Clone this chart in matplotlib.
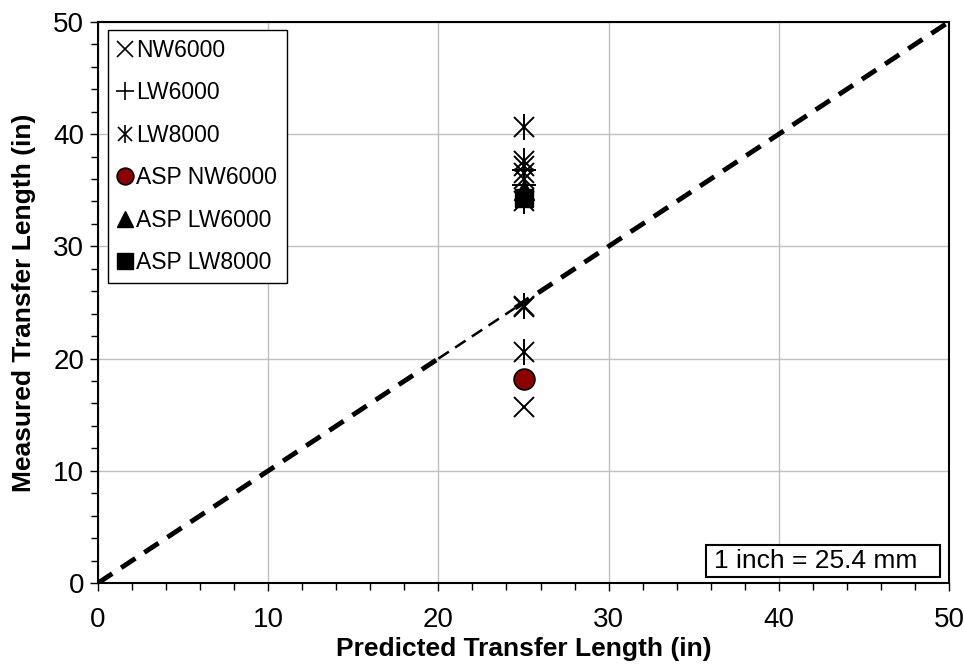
import matplotlib
matplotlib.use("Agg")
import matplotlib.pyplot as plt
from matplotlib.ticker import MultipleLocator
from matplotlib.patches import Rectangle

plt.rcParams['font.family'] = ['Liberation Sans', 'DejaVu Sans']

# Predicted vs measured transfer lengths (in)
predicted = 25.0
nw6000 = [15.7, 24.6, 36.5, 37.2]
lw6000 = [35.5, 36.8]
lw8000 = [20.6, 24.7, 34.0, 36.0, 37.6, 40.6]
asp_nw6000 = [18.2]
asp_lw6000 = [35.0]
asp_lw8000 = [34.3]

# 1:1 reference line
line_x = [0, 20, 24.5, 50]
line_y = [0, 20, 24.5, 50]

fig = plt.figure(figsize=(9.64, 6.64), dpi=100)
ax = fig.add_axes([0.1017, 0.122, 0.8827, 0.845])

ax.set_xlim(0, 50)
ax.set_ylim(0, 50)
ax.xaxis.set_major_locator(MultipleLocator(10))
ax.yaxis.set_major_locator(MultipleLocator(10))
ax.xaxis.set_minor_locator(MultipleLocator(2))
ax.yaxis.set_minor_locator(MultipleLocator(2))
ax.grid(True, which='major', color='#c0c0c0', linewidth=1.0)
ax.set_axisbelow(True)
ax.tick_params(which='both', direction='out', color='black', labelsize=20)
ax.tick_params(which='major', length=6, width=1)
ax.tick_params(which='minor', length=5, width=1)
ax.tick_params(axis='x', which='major', pad=11)
ax.tick_params(axis='y', which='major', pad=4)
for s in ax.spines.values():
    s.set_linewidth(1.5)
    s.set_color('black')

# 1:1 line (thick dashed, with a thinner stretch)
ax.plot(line_x[0:2], line_y[0:2], color='black', lw=3.5, ls=(0, (3.5, 2.2)), zorder=3)
ax.plot(line_x[1:3], line_y[1:3], color='black', lw=1.8, ls=(0, (5, 3)), zorder=3)
ax.plot(line_x[2:4], line_y[2:4], color='black', lw=3.5, ls=(0, (3.5, 2.2)), zorder=3)

def xs(vals):
    return [predicted] * len(vals)

ax.plot(xs(asp_lw8000), asp_lw8000, ls='none', marker='s', ms=13, color='black', zorder=4)
ax.plot(xs(asp_lw6000), asp_lw6000, ls='none', marker='^', ms=14, color='black', zorder=4)
ax.plot(xs(asp_nw6000), asp_nw6000, ls='none', marker='o', ms=15, mfc='#8b0000',
        mec='black', mew=1.2, zorder=5)
ax.plot(xs(nw6000), nw6000, ls='none', marker='x', ms=15, mew=1.4, color='black', zorder=5)
ax.plot(xs(lw6000), lw6000, ls='none', marker='+', ms=17, mew=1.4, color='black', zorder=5)
ax.plot(xs(lw8000), lw8000, ls='none', marker='x', ms=15, mew=1.4, color='black', zorder=5)
ax.plot(xs(lw8000), lw8000, ls='none', marker='|', ms=19, mew=1.4, color='black', zorder=5)

# legend proxies with smaller markers
def proxy(**kw):
    return ax.plot([], [], ls='none', color='black', **kw)[0]

lp_x = proxy(marker='x', ms=11, mew=1.2)
lp_plus = proxy(marker='+', ms=13, mew=1.2)
lp_a1 = proxy(marker='x', ms=10, mew=1.2)
lp_a2 = proxy(marker='|', ms=13, mew=1.2)
lp_c = ax.plot([], [], ls='none', marker='o', ms=12, mfc='#8b0000', mec='black', mew=1.2)[0]
lp_t = proxy(marker='^', ms=12)
lp_s = proxy(marker='s', ms=11)

leg = ax.legend([lp_x, lp_plus, (lp_a1, lp_a2), lp_c, lp_t, lp_s],
                ['NW6000', 'LW6000', 'LW8000', 'ASP NW6000', 'ASP LW6000', 'ASP LW8000'],
                loc='upper left', bbox_to_anchor=(0.0115, 0.986), fontsize=16.5,
                frameon=True, fancybox=False, edgecolor='black', framealpha=1,
                handlelength=0.7, handletextpad=0.15, labelspacing=0.85,
                borderpad=0.4, borderaxespad=0)
leg.get_frame().set_linewidth(1.0)

# unit conversion note in a boxed panel
ax.add_patch(Rectangle((0.7145, 0.0107), 0.2749, 0.057, transform=ax.transAxes,
                       fc='white', ec='black', lw=1.5, zorder=6))
ax.text(0.7239, 0.0392, '1 inch = 25.4 mm', transform=ax.transAxes, fontsize=19,
        ha='left', va='center', zorder=7)

ax.set_xlabel('Predicted Transfer Length (in)', fontsize=19, fontweight='bold', labelpad=3)
ax.set_ylabel('Measured Transfer Length (in)', fontsize=19, fontweight='bold', labelpad=12)

fig.savefig('out.png', dpi=100)
